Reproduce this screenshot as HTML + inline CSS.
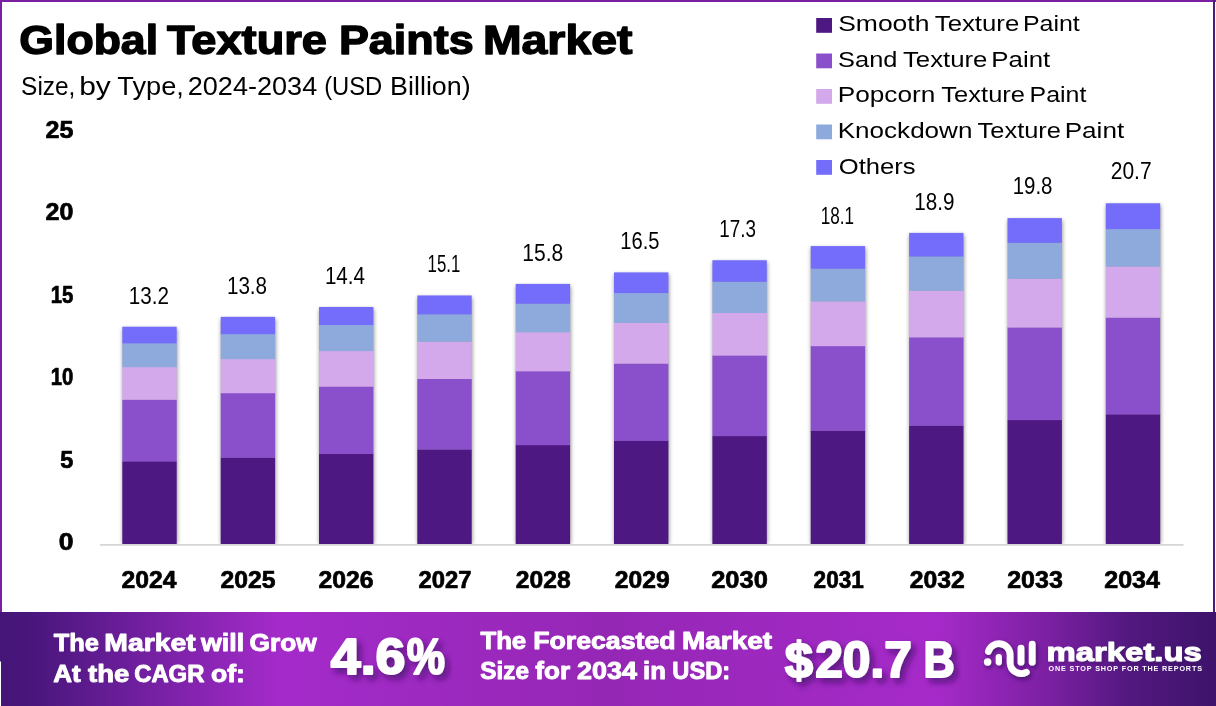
<!DOCTYPE html>
<html lang="en"><head><meta charset="utf-8"><title>Global Texture Paints Market</title>
<style>
html,body{margin:0;padding:0;background:#fff;}
body{width:1216px;height:706px;overflow:hidden;position:relative;font-family:"Liberation Sans",sans-serif;}
svg{position:absolute;left:0;top:0;display:block;}
svg text{font-family:"Liberation Sans",sans-serif;}
</style></head><body>
<svg width="1216" height="706" viewBox="0 0 1216 706">
<defs>
<filter id="bsh" x="-20%" y="-10%" width="140%" height="120%"><feGaussianBlur stdDeviation="2"/></filter>
<filter id="tsh" x="-20%" y="-30%" width="140%" height="180%"><feDropShadow dx="4" dy="4.5" stdDeviation="3" flood-color="#3a0f63" flood-opacity="0.7"/></filter>
<filter id="tsh3" x="-20%" y="-30%" width="140%" height="180%"><feDropShadow dx="1.5" dy="2.5" stdDeviation="2" flood-color="#2f0b55" flood-opacity="0.75"/></filter>
<filter id="tsh2" x="-20%" y="-30%" width="140%" height="180%"><feDropShadow dx="1.5" dy="2" stdDeviation="1.5" flood-color="#3a0f63" flood-opacity="0.55"/></filter>
<clipPath id="plotclip"><rect x="90" y="100" width="1110" height="444"/></clipPath>
<linearGradient id="bg" x1="0" y1="0" x2="1" y2="0">
<stop offset="0" stop-color="#451577"/>
<stop offset="0.025" stop-color="#48167c"/>
<stop offset="0.23" stop-color="#a42bca"/>
<stop offset="0.5" stop-color="#9527b5"/>
<stop offset="0.77" stop-color="#a62ac9"/>
<stop offset="0.86" stop-color="#7c20a3"/>
<stop offset="0.93" stop-color="#52187f"/>
<stop offset="1" stop-color="#3e136b"/>
</linearGradient>
</defs>
<rect x="0" y="0" width="1216" height="706" fill="#fff"/>
<!-- frame -->
<rect x="0" y="0" width="1216" height="2" fill="#7b1fa2"/>
<rect x="0" y="0" width="2" height="661" fill="#7b1fa2"/>
<rect x="1213" y="0" width="2" height="613" fill="#4c1d78"/>
<!-- chart -->
<g clip-path="url(#plotclip)"><rect x="122.8" y="328.7" width="54.4" height="215.3" fill="#000" opacity="0.45" filter="url(#bsh)"/><rect x="221.2" y="318.9" width="54.4" height="225.1" fill="#000" opacity="0.45" filter="url(#bsh)"/><rect x="319.5" y="309.0" width="54.4" height="235.0" fill="#000" opacity="0.45" filter="url(#bsh)"/><rect x="417.8" y="297.5" width="54.4" height="246.5" fill="#000" opacity="0.45" filter="url(#bsh)"/><rect x="516.2" y="285.9" width="54.4" height="258.1" fill="#000" opacity="0.45" filter="url(#bsh)"/><rect x="614.5" y="274.4" width="54.4" height="269.6" fill="#000" opacity="0.45" filter="url(#bsh)"/><rect x="712.9" y="262.2" width="54.4" height="281.8" fill="#000" opacity="0.45" filter="url(#bsh)"/><rect x="811.2" y="248.1" width="54.4" height="295.9" fill="#000" opacity="0.45" filter="url(#bsh)"/><rect x="909.6" y="234.9" width="54.4" height="309.1" fill="#000" opacity="0.45" filter="url(#bsh)"/><rect x="1008.0" y="220.1" width="54.4" height="323.9" fill="#000" opacity="0.45" filter="url(#bsh)"/><rect x="1106.3" y="205.3" width="54.4" height="338.7" fill="#000" opacity="0.45" filter="url(#bsh)"/></g>
<rect x="122.3" y="461.22" width="54.4" height="83.08" fill="#4e1882"/>
<rect x="122.3" y="399.51" width="54.4" height="62.01" fill="#8a50cc"/>
<rect x="122.3" y="366.92" width="54.4" height="32.89" fill="#d3a9eb"/>
<rect x="122.3" y="343.02" width="54.4" height="24.20" fill="#8ea9dc"/>
<rect x="122.3" y="326.73" width="54.4" height="16.60" fill="#746dfb"/>
<rect x="220.7" y="457.46" width="54.4" height="86.84" fill="#4e1882"/>
<rect x="220.7" y="392.95" width="54.4" height="64.81" fill="#8a50cc"/>
<rect x="220.7" y="358.87" width="54.4" height="34.37" fill="#d3a9eb"/>
<rect x="220.7" y="333.89" width="54.4" height="25.29" fill="#8ea9dc"/>
<rect x="220.7" y="316.85" width="54.4" height="17.34" fill="#746dfb"/>
<rect x="319.0" y="453.69" width="54.4" height="90.61" fill="#4e1882"/>
<rect x="319.0" y="386.38" width="54.4" height="67.61" fill="#8a50cc"/>
<rect x="319.0" y="350.83" width="54.4" height="35.85" fill="#d3a9eb"/>
<rect x="319.0" y="324.75" width="54.4" height="26.37" fill="#8ea9dc"/>
<rect x="319.0" y="306.98" width="54.4" height="18.08" fill="#746dfb"/>
<rect x="417.3" y="449.30" width="54.4" height="95.00" fill="#4e1882"/>
<rect x="417.3" y="378.72" width="54.4" height="70.89" fill="#8a50cc"/>
<rect x="417.3" y="341.44" width="54.4" height="37.58" fill="#d3a9eb"/>
<rect x="417.3" y="314.09" width="54.4" height="27.64" fill="#8ea9dc"/>
<rect x="417.3" y="295.45" width="54.4" height="18.94" fill="#746dfb"/>
<rect x="515.7" y="444.91" width="54.4" height="99.39" fill="#4e1882"/>
<rect x="515.7" y="371.05" width="54.4" height="74.16" fill="#8a50cc"/>
<rect x="515.7" y="332.04" width="54.4" height="39.31" fill="#d3a9eb"/>
<rect x="515.7" y="303.44" width="54.4" height="28.91" fill="#8ea9dc"/>
<rect x="515.7" y="283.93" width="54.4" height="19.81" fill="#746dfb"/>
<rect x="614.0" y="440.52" width="54.4" height="103.78" fill="#4e1882"/>
<rect x="614.0" y="363.39" width="54.4" height="77.43" fill="#8a50cc"/>
<rect x="614.0" y="322.65" width="54.4" height="41.04" fill="#d3a9eb"/>
<rect x="614.0" y="292.78" width="54.4" height="30.17" fill="#8ea9dc"/>
<rect x="614.0" y="272.41" width="54.4" height="20.67" fill="#746dfb"/>
<rect x="712.4" y="435.88" width="54.4" height="108.42" fill="#4e1882"/>
<rect x="712.4" y="355.29" width="54.4" height="80.89" fill="#8a50cc"/>
<rect x="712.4" y="312.73" width="54.4" height="42.87" fill="#d3a9eb"/>
<rect x="712.4" y="281.51" width="54.4" height="31.51" fill="#8ea9dc"/>
<rect x="712.4" y="260.23" width="54.4" height="21.58" fill="#746dfb"/>
<rect x="810.7" y="430.49" width="54.4" height="113.81" fill="#4e1882"/>
<rect x="810.7" y="345.88" width="54.4" height="84.91" fill="#8a50cc"/>
<rect x="810.7" y="301.19" width="54.4" height="44.99" fill="#d3a9eb"/>
<rect x="810.7" y="268.42" width="54.4" height="33.07" fill="#8ea9dc"/>
<rect x="810.7" y="246.07" width="54.4" height="22.64" fill="#746dfb"/>
<rect x="909.1" y="425.47" width="54.4" height="118.83" fill="#4e1882"/>
<rect x="909.1" y="337.12" width="54.4" height="88.65" fill="#8a50cc"/>
<rect x="909.1" y="290.46" width="54.4" height="46.96" fill="#d3a9eb"/>
<rect x="909.1" y="256.24" width="54.4" height="34.52" fill="#8ea9dc"/>
<rect x="909.1" y="232.91" width="54.4" height="23.63" fill="#746dfb"/>
<rect x="1007.5" y="419.83" width="54.4" height="124.47" fill="#4e1882"/>
<rect x="1007.5" y="327.27" width="54.4" height="92.86" fill="#8a50cc"/>
<rect x="1007.5" y="278.38" width="54.4" height="49.19" fill="#d3a9eb"/>
<rect x="1007.5" y="242.54" width="54.4" height="36.15" fill="#8ea9dc"/>
<rect x="1007.5" y="218.09" width="54.4" height="24.74" fill="#746dfb"/>
<rect x="1105.8" y="414.18" width="54.4" height="130.12" fill="#4e1882"/>
<rect x="1105.8" y="317.42" width="54.4" height="97.07" fill="#8a50cc"/>
<rect x="1105.8" y="266.31" width="54.4" height="51.41" fill="#d3a9eb"/>
<rect x="1105.8" y="228.83" width="54.4" height="37.78" fill="#8ea9dc"/>
<rect x="1105.8" y="203.28" width="54.4" height="25.85" fill="#746dfb"/>
<rect x="100" y="544" width="1083.5" height="1.8" fill="#d6d6d6"/>
<rect x="816.2" y="18.0" width="15.8" height="14.8" fill="#4e1882"/>
<rect x="816.2" y="53.5" width="15.8" height="14.8" fill="#8a50cc"/>
<rect x="816.2" y="89.0" width="15.8" height="14.8" fill="#d3a9eb"/>
<rect x="816.2" y="124.5" width="15.8" height="14.8" fill="#8ea9dc"/>
<rect x="816.2" y="160.0" width="15.8" height="14.8" fill="#746dfb"/>
<text x="19.36" y="53.6" font-size="40.6" font-weight="700" fill="#000" textLength="138.68" lengthAdjust="spacingAndGlyphs" stroke="#000" stroke-width="1.4" stroke-linejoin="round">Global</text>
<text x="167.00" y="53.6" font-size="40.6" font-weight="700" fill="#000" textLength="160.01" lengthAdjust="spacingAndGlyphs" stroke="#000" stroke-width="1.4" stroke-linejoin="round">Texture</text>
<text x="338.95" y="53.6" font-size="40.6" font-weight="700" fill="#000" textLength="134.69" lengthAdjust="spacingAndGlyphs" stroke="#000" stroke-width="1.4" stroke-linejoin="round">Paints</text>
<text x="482.98" y="53.6" font-size="40.6" font-weight="700" fill="#000" textLength="149.42" lengthAdjust="spacingAndGlyphs" stroke="#000" stroke-width="1.4" stroke-linejoin="round">Market</text>
<text x="21.11" y="94.6" font-size="25.6" font-weight="400" fill="#000" textLength="54.27" lengthAdjust="spacingAndGlyphs">Size,</text>
<text x="79.23" y="94.6" font-size="25.6" font-weight="400" fill="#000" textLength="31.61" lengthAdjust="spacingAndGlyphs">by</text>
<text x="117.38" y="94.6" font-size="25.6" font-weight="400" fill="#000" textLength="66.52" lengthAdjust="spacingAndGlyphs">Type,</text>
<text x="187.77" y="94.6" font-size="25.6" font-weight="400" fill="#000" textLength="129.44" lengthAdjust="spacingAndGlyphs">2024-2034</text>
<text x="324.13" y="94.6" font-size="25.6" font-weight="400" fill="#000" textLength="58.13" lengthAdjust="spacingAndGlyphs">(USD</text>
<text x="390.10" y="94.6" font-size="25.6" font-weight="400" fill="#000" textLength="80.56" lengthAdjust="spacingAndGlyphs">Billion)</text>
<text x="45.56" y="137.7" font-size="23.4" font-weight="700" fill="#000" textLength="27.84" lengthAdjust="spacingAndGlyphs" stroke="#000" stroke-width="0.7" stroke-linejoin="round">25</text>
<text x="45.56" y="220.2" font-size="23.4" font-weight="700" fill="#000" textLength="27.84" lengthAdjust="spacingAndGlyphs" stroke="#000" stroke-width="0.7" stroke-linejoin="round">20</text>
<text x="50.77" y="302.7" font-size="23.4" font-weight="700" fill="#000" textLength="22.63" lengthAdjust="spacingAndGlyphs" stroke="#000" stroke-width="0.7" stroke-linejoin="round">15</text>
<text x="50.77" y="385.2" font-size="23.4" font-weight="700" fill="#000" textLength="22.63" lengthAdjust="spacingAndGlyphs" stroke="#000" stroke-width="0.7" stroke-linejoin="round">10</text>
<text x="60.36" y="467.7" font-size="23.4" font-weight="700" fill="#000" textLength="13.04" lengthAdjust="spacingAndGlyphs" stroke="#000" stroke-width="0.7" stroke-linejoin="round">5</text>
<text x="58.76" y="550.2" font-size="23.4" font-weight="700" fill="#000" textLength="14.76" lengthAdjust="spacingAndGlyphs" stroke="#000" stroke-width="0.7" stroke-linejoin="round">0</text>
<text x="128.87" y="303.8" font-size="24" font-weight="400" fill="#000" textLength="40.20" lengthAdjust="spacingAndGlyphs">13.2</text>
<text x="226.91" y="293.9" font-size="24" font-weight="400" fill="#000" textLength="40.19" lengthAdjust="spacingAndGlyphs">13.8</text>
<text x="324.92" y="283.5" font-size="24" font-weight="400" fill="#000" textLength="40.13" lengthAdjust="spacingAndGlyphs">14.4</text>
<text x="427.54" y="272.0" font-size="24" font-weight="400" fill="#000" textLength="32.71" lengthAdjust="spacingAndGlyphs">15.1</text>
<text x="522.30" y="260.5" font-size="24" font-weight="400" fill="#000" textLength="40.96" lengthAdjust="spacingAndGlyphs">15.8</text>
<text x="620.33" y="248.7" font-size="24" font-weight="400" fill="#000" textLength="39.16" lengthAdjust="spacingAndGlyphs">16.5</text>
<text x="719.33" y="236.6" font-size="24" font-weight="400" fill="#000" textLength="36.70" lengthAdjust="spacingAndGlyphs">17.3</text>
<text x="820.72" y="223.9" font-size="24" font-weight="400" fill="#000" textLength="33.37" lengthAdjust="spacingAndGlyphs">18.1</text>
<text x="914.31" y="209.6" font-size="24" font-weight="400" fill="#000" textLength="40.15" lengthAdjust="spacingAndGlyphs">18.9</text>
<text x="1012.70" y="194.3" font-size="24" font-weight="400" fill="#000" textLength="39.78" lengthAdjust="spacingAndGlyphs">19.8</text>
<text x="1110.73" y="179.4" font-size="24" font-weight="400" fill="#000" textLength="40.91" lengthAdjust="spacingAndGlyphs">20.7</text>
<text x="121.60" y="587.8" font-size="24" font-weight="700" fill="#000" textLength="55.00" lengthAdjust="spacingAndGlyphs" stroke="#000" stroke-width="0.7" stroke-linejoin="round">2024</text>
<text x="220.60" y="587.8" font-size="24" font-weight="700" fill="#000" textLength="55.01" lengthAdjust="spacingAndGlyphs" stroke="#000" stroke-width="0.7" stroke-linejoin="round">2025</text>
<text x="318.58" y="587.8" font-size="24" font-weight="700" fill="#000" textLength="55.05" lengthAdjust="spacingAndGlyphs" stroke="#000" stroke-width="0.7" stroke-linejoin="round">2026</text>
<text x="418.60" y="587.8" font-size="24" font-weight="700" fill="#000" textLength="53.02" lengthAdjust="spacingAndGlyphs" stroke="#000" stroke-width="0.7" stroke-linejoin="round">2027</text>
<text x="515.78" y="587.8" font-size="24" font-weight="700" fill="#000" textLength="54.82" lengthAdjust="spacingAndGlyphs" stroke="#000" stroke-width="0.7" stroke-linejoin="round">2028</text>
<text x="614.78" y="587.8" font-size="24" font-weight="700" fill="#000" textLength="54.84" lengthAdjust="spacingAndGlyphs" stroke="#000" stroke-width="0.7" stroke-linejoin="round">2029</text>
<text x="711.19" y="587.8" font-size="24" font-weight="700" fill="#000" textLength="56.64" lengthAdjust="spacingAndGlyphs" stroke="#000" stroke-width="0.7" stroke-linejoin="round">2030</text>
<text x="813.60" y="587.8" font-size="24" font-weight="700" fill="#000" textLength="50.21" lengthAdjust="spacingAndGlyphs" stroke="#000" stroke-width="0.7" stroke-linejoin="round">2031</text>
<text x="909.78" y="587.8" font-size="24" font-weight="700" fill="#000" textLength="55.02" lengthAdjust="spacingAndGlyphs" stroke="#000" stroke-width="0.7" stroke-linejoin="round">2032</text>
<text x="1007.19" y="587.8" font-size="24" font-weight="700" fill="#000" textLength="55.62" lengthAdjust="spacingAndGlyphs" stroke="#000" stroke-width="0.7" stroke-linejoin="round">2033</text>
<text x="1104.20" y="587.8" font-size="24" font-weight="700" fill="#000" textLength="55.81" lengthAdjust="spacingAndGlyphs" stroke="#000" stroke-width="0.7" stroke-linejoin="round">2034</text>
<text x="838.15" y="31.0" font-size="21.8" font-weight="400" fill="#000" textLength="91.32" lengthAdjust="spacingAndGlyphs">Smooth</text>
<text x="934.78" y="31.0" font-size="21.8" font-weight="400" fill="#000" textLength="84.44" lengthAdjust="spacingAndGlyphs">Texture</text>
<text x="1022.92" y="31.0" font-size="21.8" font-weight="400" fill="#000" textLength="56.91" lengthAdjust="spacingAndGlyphs">Paint</text>
<text x="838.13" y="66.7" font-size="21.8" font-weight="400" fill="#000" textLength="59.33" lengthAdjust="spacingAndGlyphs">Sand</text>
<text x="902.99" y="66.7" font-size="21.8" font-weight="400" fill="#000" textLength="84.44" lengthAdjust="spacingAndGlyphs">Texture</text>
<text x="991.32" y="66.7" font-size="21.8" font-weight="400" fill="#000" textLength="58.89" lengthAdjust="spacingAndGlyphs">Paint</text>
<text x="837.72" y="102.4" font-size="21.8" font-weight="400" fill="#000" textLength="97.56" lengthAdjust="spacingAndGlyphs">Popcorn</text>
<text x="941.39" y="102.4" font-size="21.8" font-weight="400" fill="#000" textLength="83.62" lengthAdjust="spacingAndGlyphs">Texture</text>
<text x="1029.55" y="102.4" font-size="21.8" font-weight="400" fill="#000" textLength="56.88" lengthAdjust="spacingAndGlyphs">Paint</text>
<text x="837.73" y="138.1" font-size="21.8" font-weight="400" fill="#000" textLength="134.72" lengthAdjust="spacingAndGlyphs">Knockdown</text>
<text x="977.57" y="138.1" font-size="21.8" font-weight="400" fill="#000" textLength="83.44" lengthAdjust="spacingAndGlyphs">Texture</text>
<text x="1064.70" y="138.1" font-size="21.8" font-weight="400" fill="#000" textLength="59.50" lengthAdjust="spacingAndGlyphs">Paint</text>
<text x="838.77" y="173.8" font-size="21.8" font-weight="400" fill="#000" textLength="76.86" lengthAdjust="spacingAndGlyphs">Others</text>
<!-- banner -->
<rect x="0" y="612" width="1216" height="94" fill="url(#bg)"/>
<rect x="0" y="661.5" width="1" height="45" fill="#fff"/>
<text x="53.79" y="651.4" font-size="23" font-weight="700" fill="#fff" textLength="45.23" lengthAdjust="spacingAndGlyphs" stroke="#fff" stroke-width="0.9" stroke-linejoin="round">The</text>
<text x="104.38" y="651.4" font-size="23" font-weight="700" fill="#fff" textLength="91.42" lengthAdjust="spacingAndGlyphs" stroke="#fff" stroke-width="0.9" stroke-linejoin="round">Market</text>
<text x="201.00" y="651.4" font-size="23" font-weight="700" fill="#fff" textLength="43.06" lengthAdjust="spacingAndGlyphs" stroke="#fff" stroke-width="0.9" stroke-linejoin="round">will</text>
<text x="249.60" y="651.4" font-size="23" font-weight="700" fill="#fff" textLength="67.21" lengthAdjust="spacingAndGlyphs" stroke="#fff" stroke-width="0.9" stroke-linejoin="round">Grow</text>
<text x="53.17" y="681.6" font-size="23" font-weight="700" fill="#fff" textLength="27.44" lengthAdjust="spacingAndGlyphs" stroke="#fff" stroke-width="0.9" stroke-linejoin="round">At</text>
<text x="88.00" y="681.6" font-size="23" font-weight="700" fill="#fff" textLength="41.21" lengthAdjust="spacingAndGlyphs" stroke="#fff" stroke-width="0.9" stroke-linejoin="round">the</text>
<text x="134.20" y="681.6" font-size="23" font-weight="700" fill="#fff" textLength="70.21" lengthAdjust="spacingAndGlyphs" stroke="#fff" stroke-width="0.9" stroke-linejoin="round">CAGR</text>
<text x="210.95" y="681.6" font-size="23" font-weight="700" fill="#fff" textLength="34.00" lengthAdjust="spacingAndGlyphs" stroke="#fff" stroke-width="0.9" stroke-linejoin="round">of:</text>
<text x="480.40" y="648.5" font-size="23" font-weight="700" fill="#fff" textLength="45.81" lengthAdjust="spacingAndGlyphs" stroke="#fff" stroke-width="0.9" stroke-linejoin="round">The</text>
<text x="533.18" y="648.5" font-size="23" font-weight="700" fill="#fff" textLength="142.44" lengthAdjust="spacingAndGlyphs" stroke="#fff" stroke-width="0.9" stroke-linejoin="round">Forecasted</text>
<text x="682.00" y="648.5" font-size="23" font-weight="700" fill="#fff" textLength="90.20" lengthAdjust="spacingAndGlyphs" stroke="#fff" stroke-width="0.9" stroke-linejoin="round">Market</text>
<text x="480.39" y="678.5" font-size="23" font-weight="700" fill="#fff" textLength="48.61" lengthAdjust="spacingAndGlyphs" stroke="#fff" stroke-width="0.9" stroke-linejoin="round">Size</text>
<text x="535.38" y="678.5" font-size="23" font-weight="700" fill="#fff" textLength="34.84" lengthAdjust="spacingAndGlyphs" stroke="#fff" stroke-width="0.9" stroke-linejoin="round">for</text>
<text x="577.00" y="678.5" font-size="23" font-weight="700" fill="#fff" textLength="60.00" lengthAdjust="spacingAndGlyphs" stroke="#fff" stroke-width="0.9" stroke-linejoin="round">2034</text>
<text x="643.13" y="678.5" font-size="23" font-weight="700" fill="#fff" textLength="22.82" lengthAdjust="spacingAndGlyphs" stroke="#fff" stroke-width="0.9" stroke-linejoin="round">in</text>
<text x="672.37" y="678.5" font-size="23" font-weight="700" fill="#fff" textLength="57.71" lengthAdjust="spacingAndGlyphs" stroke="#fff" stroke-width="0.9" stroke-linejoin="round">USD:</text>
<text x="330.80" y="674.3" font-size="49.5" font-weight="700" fill="#fff" textLength="74.60" lengthAdjust="spacingAndGlyphs" stroke="#fff" stroke-width="2" stroke-linejoin="round" filter="url(#tsh)">4.6</text>
<text x="406.79" y="674.3" font-size="49.5" font-weight="700" fill="#fff" textLength="38.21" lengthAdjust="spacingAndGlyphs" stroke="#fff" stroke-width="2" stroke-linejoin="round" filter="url(#tsh)">%</text>
<text x="784.79" y="677.0" font-size="49.8" font-weight="700" fill="#fff" textLength="28.21" lengthAdjust="spacingAndGlyphs" stroke="#fff" stroke-width="2" stroke-linejoin="round" filter="url(#tsh)">$</text>
<text x="815.20" y="677.0" font-size="49.8" font-weight="700" fill="#fff" textLength="96.64" lengthAdjust="spacingAndGlyphs" stroke="#fff" stroke-width="2" stroke-linejoin="round" filter="url(#tsh)">20.7</text>
<text x="923.61" y="677.0" font-size="49.8" font-weight="700" fill="#fff" textLength="31.15" lengthAdjust="spacingAndGlyphs" stroke="#fff" stroke-width="2" stroke-linejoin="round" filter="url(#tsh)">B</text>
<text x="1046.59" y="660.7" font-size="25.6" font-weight="700" fill="#fff" textLength="155.22" lengthAdjust="spacingAndGlyphs" stroke="#fff" stroke-width="1.0" stroke-linejoin="round" filter="url(#tsh2)">market.us</text>
<text letter-spacing="0.75" x="1048.60" y="671.3" font-size="6.3" font-weight="700" fill="#fff" textLength="154.22" lengthAdjust="spacingAndGlyphs">ONE STOP SHOP FOR THE REPORTS</text>
<g filter="url(#tsh3)" fill="none" stroke="#fff" stroke-width="6.8" stroke-linecap="round">
<path d="M988.4 651.45 A11.1 11.1 0 0 1 1010.1 654.7 V662.5 A11 11 0 0 0 1026.3 672.2"/>
<path d="M998.8 657 V662.3" stroke-width="6.2"/>
<path d="M1021 648.1 V662.2"/>
<path d="M1032.2 644.2 V662.2"/>
<circle cx="987.6" cy="662" r="3.7" fill="#fff" stroke="none"/>
</g>
</svg>
</body></html>
